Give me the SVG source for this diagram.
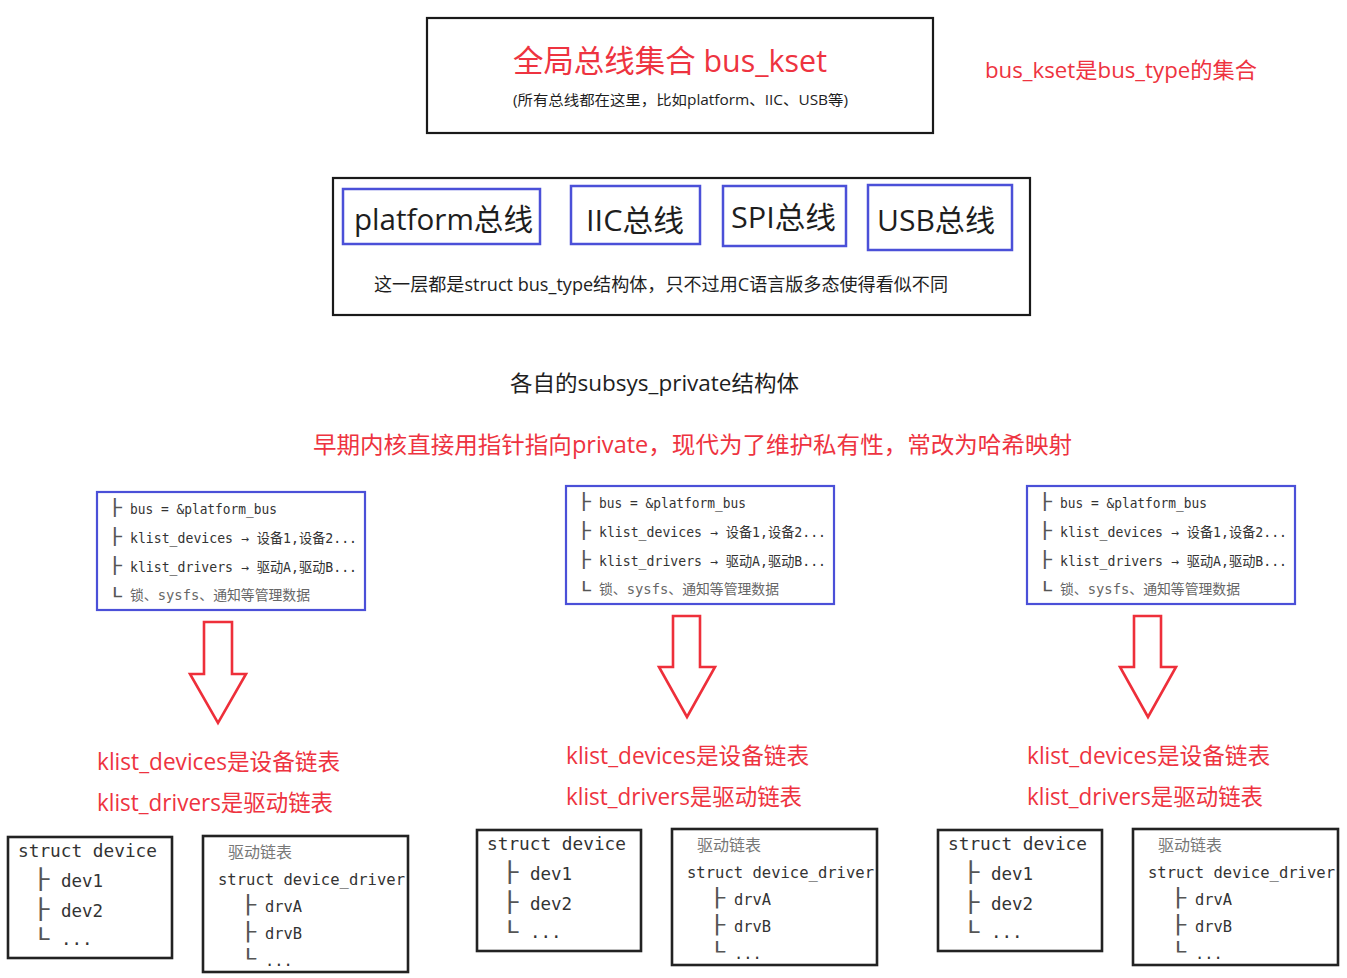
<svg xmlns="http://www.w3.org/2000/svg" width="1347" height="978" viewBox="0 0 1347 978">
<style>
.bg{fill:#ffffff}
.frame{fill:#ffffff;stroke:#1a1a1a;stroke-width:2.2}
.bus{fill:#ffffff;stroke:#4b50d8;stroke-width:2.5}
.sbox{fill:#ffffff;stroke:#4b50d8;stroke-width:2.2}
.dbox{fill:#ffffff;stroke:#222222;stroke-width:2.6}
.arrow{fill:#ffffff;stroke:#ee2f3a;stroke-width:2.6;stroke-linejoin:miter}
.red{fill:#ee3340;font-family:"Open Sans","Noto Sans CJK SC",sans-serif}
.blk{fill:#1e1e1e;font-family:"Open Sans","Noto Sans CJK SC",sans-serif}
.mono{fill:#333333;font-family:"DejaVu Sans Mono","Noto Sans CJK SC",monospace}
.gray{fill:#666666}
.lgray{fill:#777777;font-family:"Noto Sans CJK SC",sans-serif}
.tree{fill:#555555;font-family:"DejaVu Sans Mono",monospace}
.s13{font-size:13.5px}
.t13{font-size:16px}
.d17{font-size:17.5px}
.t17{font-size:20px}
.d15{font-size:15.4px}
.t15{font-size:18px}
</style>
<rect class="bg" x="0" y="0" width="1347" height="978"/>

<g id="bus_kset">
  <rect class="frame" x="427" y="18" width="506" height="115"/>
  <text class="red" x="513" y="72" font-size="31" textLength="314" lengthAdjust="spacingAndGlyphs">全局总线集合 bus_kset</text>
  <text class="blk" x="513" y="105" font-size="14" textLength="335" lengthAdjust="spacingAndGlyphs">(所有总线都在这里，比如platform、IIC、USB等)</text>
</g>

<g id="note_kset">
  <text class="red" x="985" y="78" font-size="22" textLength="272" lengthAdjust="spacingAndGlyphs">bus_kset是bus_type的集合</text>
</g>

<g id="bus_types">
  <rect class="frame" x="333" y="178" width="697" height="137"/>
  <g id="bus_platform">
    <rect class="bus" x="343" y="189" width="197" height="55"/>
    <text class="blk" x="354" y="230" font-size="30" textLength="179" lengthAdjust="spacingAndGlyphs">platform总线</text>
  </g>
  <g id="bus_iic">
    <rect class="bus" x="571" y="186" width="129" height="58"/>
    <text class="blk" x="586" y="231" font-size="30" textLength="98" lengthAdjust="spacingAndGlyphs">IIC总线</text>
  </g>
  <g id="bus_spi">
    <rect class="bus" x="723" y="186" width="123" height="60"/>
    <text class="blk" x="731" y="228" font-size="30" textLength="105" lengthAdjust="spacingAndGlyphs">SPI总线</text>
  </g>
  <g id="bus_usb">
    <rect class="bus" x="868" y="185" width="144" height="65"/>
    <text class="blk" x="877" y="231" font-size="30" textLength="118" lengthAdjust="spacingAndGlyphs">USB总线</text>
  </g>
  <text class="blk" x="374" y="291" font-size="18" textLength="574" lengthAdjust="spacingAndGlyphs">这一层都是struct bus_type结构体，只不过用C语言版多态使得看似不同</text>
</g>

<g id="subsys_title">
  <text class="blk" x="510" y="391" font-size="22" textLength="289" lengthAdjust="spacingAndGlyphs">各自的subsys_private结构体</text>
</g>
<g id="subsys_note">
  <text class="red" x="313" y="453" font-size="23" textLength="759" lengthAdjust="spacingAndGlyphs">早期内核直接用指针指向private，现代为了维护私有性，常改为哈希映射</text>
</g>

<defs>
  <g id="privbox">
    <rect class="sbox" x="0" y="0" width="268" height="118"/>
    <text class="tree t13" transform="translate(11,21) scale(1.45,1)">├</text>
    <text class="mono s13" x="33" y="22" textLength="147" lengthAdjust="spacingAndGlyphs">bus = &amp;platform_bus</text>
    <text class="tree t13" transform="translate(11,50) scale(1.45,1)">├</text>
    <text class="mono s13" x="33" y="51" textLength="227" lengthAdjust="spacingAndGlyphs">klist_devices → 设备1,设备2...</text>
    <text class="tree t13" transform="translate(11,79) scale(1.45,1)">├</text>
    <text class="mono s13" x="33" y="80" textLength="227" lengthAdjust="spacingAndGlyphs">klist_drivers → 驱动A,驱动B...</text>
    <text class="tree t13" transform="translate(11,110) scale(1.45,1)">└</text>
    <text class="mono s13 gray" x="33" y="108" textLength="180" lengthAdjust="spacingAndGlyphs">锁、sysfs、通知等管理数据</text>
  </g>
  <g id="devbox">
    <rect class="dbox" x="0" y="0" width="164" height="121"/>
    <text class="mono d17" x="10" y="20" textLength="139" lengthAdjust="spacingAndGlyphs">struct device</text>
    <text class="tree t17" transform="translate(24,49) scale(1.42,1)">├</text>
    <text class="mono d17" x="53" y="50">dev1</text>
    <text class="tree t17" transform="translate(24,79) scale(1.42,1)">├</text>
    <text class="mono d17" x="53" y="80">dev2</text>
    <text class="tree t17" transform="translate(24,109) scale(1.42,1)">└</text>
    <text class="mono d17" x="53" y="108">...</text>
  </g>
  <g id="drvbox">
    <rect class="dbox" x="0" y="0" width="205" height="136"/>
    <text class="lgray" x="25" y="22" font-size="16">驱动链表</text>
    <text class="mono d15" x="15" y="49" textLength="187" lengthAdjust="spacingAndGlyphs">struct device_driver</text>
    <text class="tree t15" transform="translate(37,75) scale(1.48,1)">├</text>
    <text class="mono d15" x="62" y="76">drvA</text>
    <text class="tree t15" transform="translate(37,102) scale(1.48,1)">├</text>
    <text class="mono d15" x="62" y="103">drvB</text>
    <text class="tree t15" transform="translate(37,129) scale(1.48,1)">└</text>
    <text class="mono d15" x="62" y="130">...</text>
  </g>
</defs>

<g id="private_1"><use href="#privbox" x="97" y="492"/></g>
<g id="private_2"><use href="#privbox" x="566" y="486"/></g>
<g id="private_3"><use href="#privbox" x="1027" y="486"/></g>

<g id="labels_1">
  <text class="red" x="97" y="770" font-size="23" textLength="243" lengthAdjust="spacingAndGlyphs">klist_devices是设备链表</text>
  <text class="red" x="97" y="811" font-size="23" textLength="236" lengthAdjust="spacingAndGlyphs">klist_drivers是驱动链表</text>
</g>
<g id="labels_2">
  <text class="red" x="566" y="764" font-size="23" textLength="243" lengthAdjust="spacingAndGlyphs">klist_devices是设备链表</text>
  <text class="red" x="566" y="805" font-size="23" textLength="236" lengthAdjust="spacingAndGlyphs">klist_drivers是驱动链表</text>
</g>
<g id="labels_3">
  <text class="red" x="1027" y="764" font-size="23" textLength="243" lengthAdjust="spacingAndGlyphs">klist_devices是设备链表</text>
  <text class="red" x="1027" y="805" font-size="23" textLength="236" lengthAdjust="spacingAndGlyphs">klist_drivers是驱动链表</text>
</g>

<g id="device_1"><use href="#devbox" x="8" y="837"/></g>
<g id="driver_1"><use href="#drvbox" x="203" y="836"/></g>
<g id="device_2"><use href="#devbox" x="477" y="830"/></g>
<g id="driver_2"><use href="#drvbox" x="672" y="829"/></g>
<g id="device_3"><use href="#devbox" x="938" y="830"/></g>
<g id="driver_3"><use href="#drvbox" x="1133" y="829"/></g>

<g id="connectors">
  <polygon class="arrow" points="204,622 232,622 232,674 246,674 218,723 190,674 204,674"/>
  <polygon class="arrow" points="673,616 700,616 700,667 715,667 687,717 659,667 673,667"/>
  <polygon class="arrow" points="1134,616 1161,616 1161,667 1176,667 1148,717 1120,667 1134,667"/>
</g>
</svg>
